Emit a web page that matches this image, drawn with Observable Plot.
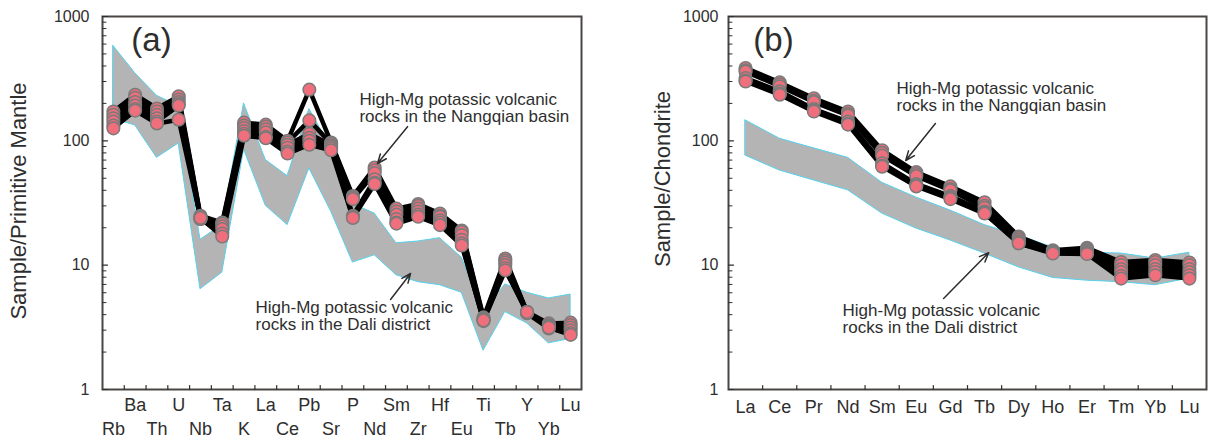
<!DOCTYPE html>
<html><head><meta charset="utf-8">
<script src="https://cdn.jsdelivr.net/npm/d3@7"></script>
<script src="https://cdn.jsdelivr.net/npm/@observablehq/plot@0.6"></script>
<style>
html,body{margin:0;padding:0;background:#fff;}
#wrap{display:flex;width:1208px;height:440px;overflow:hidden;}
</style></head><body><div id="wrap"></div>
<script>
// ---------- Panel (a): primitive-mantle normalised spider diagram ----------
const elementsA = ["Rb","Ba","Th","U","Nb","Ta","K","La","Ce","Pb","Sr","P","Nd","Sm","Zr","Hf","Eu","Ti","Tb","Y","Yb","Lu"];
const nangqianA1 = [172,235,182,228,25,22,140,135,100,258,97,36,61,28.5,31,26,19,3.8,11.3,4.2,3.4,3.45];
const nangqianA2 = [162,222,172,215,24.5,21.5,133,130,97,146,95,35,58,27,30,25,18.5,3.7,10.9,4.2,3.3,3.3];
const nangqianA3 = [152,205,162,205,24,20.5,127,124,93,114,92,34,55,25.5,28.5,24.5,17.5,3.65,10.5,4.15,3.25,3.15];
const nangqianA4 = [143,192,152,198,23.5,19.5,120,117,88,106,90,25,49,23.5,27,23,16,3.6,10,4.2,3.2,3.0];
const nangqianA5 = [133,180,143,192,23.5,18,114,108,82,100,87,24.5,46,22,25.5,22,15,3.55,9.5,4.1,3.1,2.85];
const nangqianA6 = [126,175,138,148,24,17,110,105,79,93,84,24,45,21.6,24.5,21,14.4,3.6,9.1,4.2,3.15,2.75];
const daliUpperA = [580,350,230,190,16,21,200,70,52,180,88,31,26,15,15.5,16.5,11.5,4.2,7,6,5.4,5.8];
const daliLowerA = [150,133,73,95,6.4,8.7,85,30,21,60,27,10.5,12,8.3,7.3,6.9,6.0,2.05,4.2,3.4,2.35,2.55];

// ---------- Panel (b): chondrite-normalised REE diagram ----------
const elementsB = ["La","Ce","Pr","Nd","Sm","Eu","Gd","Tb","Dy","Ho","Er","Tm","Yb","Lu"];
const nangqianB1 = [385,295,220,172,84,56,43,32,17,13.2,13.8,10.6,11,10.5];
const nangqianB2 = [370,285,210,165,80,54,41,30,16.5,13,13.5,10,10.6,10];
const nangqianB3 = [360,275,205,160,76,52,40,29,16,12.8,13.2,9.3,10,9.3];
const nangqianB4 = [320,250,180,143,66,45,36,27,15.5,12.6,12.8,8.8,9.3,8.8];
const nangqianB5 = [305,240,175,137,63,44,35,26.5,15,12.5,12.5,8.2,8.8,8.3];
const nangqianB6 = [300,235,172,135,62,43,34,26,15,12.4,12.3,7.8,8.3,7.8];
const daliUpperB = [146,104,87,73,46,35,27.5,21,17.3,13.9,12.6,12.4,11.3,12.6];
const daliLowerB = [76,57.7,48,40,26,19.7,15.8,12.4,9.6,7.9,7.5,7.3,6.9,7.8];

// ---------- Axis tick labels ----------
const yTickLabels = [1, 10, 100, 1000];
const yMinorTicks = [2,3,4,5,6,7,8,9,20,30,40,50,60,70,80,90,200,300,400,500,600,700,800,900];

// ---------- Annotations (data coordinates: element index, normalised value) ----------
const labelNangqian = "High-Mg potassic volcanic\nrocks in the Nangqian basin";
const labelDali = "High-Mg potassic volcanic\nrocks in the Dali district";
const notesA = [{text: labelNangqian, x: 11.3, y: 185}, {text: labelDali, x: 6.53, y: 3.87}];
const arrowsA = [{x1: 13.51, y1: 130, x2: 12.13, y2: 65.7}, {x1: 12.73, y1: 5.3, x2: 13.65, y2: 8.57}];
const notesB = [{text: labelNangqian, x: 4.42, y: 223}, {text: labelDali, x: 2.84, y: 3.72}];
const arrowsB = [{x1: 5.56, y1: 138, x2: 4.69, y2: 69.5}, {x1: 5.80, y1: 5.39, x2: 7.12, y2: 12.6}];

const INK = "#2e2e2e";
const FONT = "'Liberation Sans', Arial, Helvetica, sans-serif";
const tickShape = {draw(ctx, l) { ctx.moveTo(0, 0); ctx.lineTo(0, -l); }};

function panel({elements, samples, upper, lower, notes, arrows, tag, tagDx, title, titleDx, titleDy, ylabDx, marginLeft, marginRight, twoRows, xlabDy}) {
  const n = elements.length;
  const rec = samples.flatMap((vals, s) => vals.map((v, i) => ({s, i, v})));
  const field = elements.map((el, i) => ({i, lo: lower[i], hi: upper[i]}));
  const labs = elements.map((el, i) => ({el, i}));
  const lab = {x: "i", text: "el", frameAnchor: "bottom", lineAnchor: "middle", textAnchor: "middle", fontSize: 18, fill: INK};
  const xMarks = twoRows
    ? [Plot.text(labs.filter(d => d.i % 2 === 1), {...lab, dy: 16}),
       Plot.text(labs.filter(d => d.i % 2 === 0), {...lab, dy: 40})]
    : [Plot.text(labs, {...lab, dy: xlabDy})];
  return Plot.plot({
    width: 604, height: 440,
    marginLeft, marginRight, marginTop: 16, marginBottom: 51,
    x: {type: "linear", domain: [-0.5, n - 0.5], axis: null},
    y: {type: "log", domain: [1, 1000], axis: null},
    style: {fontFamily: FONT, background: "#fff", color: INK, overflow: "visible"},
    marks: [
      Plot.areaY(field, {x: "i", y1: "lo", y2: "hi", fill: "#b4b4b4", stroke: "#55d2ee", strokeWidth: 1, curve: "linear"}),
      Plot.line(rec, {x: "i", y: "v", z: "s", stroke: "#000", strokeWidth: 4.5, strokeLinejoin: "round"}),
      Plot.dot(rec, {x: "i", y: "v", r: 6.3, fill: "#ef6f7c", stroke: "#7a7a7a", strokeWidth: 1.5}),
      Plot.frame({stroke: "#4a4644", strokeWidth: 2}),
      // inward y ticks
      Plot.vector(yTickLabels, {y: d => d, frameAnchor: "left", length: 5, rotate: 90, anchor: "start", shape: tickShape, stroke: INK, strokeWidth: 1.2}),
      Plot.vector(yMinorTicks, {y: d => d, frameAnchor: "left", length: 3.5, rotate: 90, anchor: "start", shape: tickShape, stroke: INK, strokeWidth: 1}),
      // inward x ticks between elements
      Plot.vector(elements.slice(1).map((el, i) => i + 0.5), {x: d => d, frameAnchor: "bottom", length: 4, rotate: 0, anchor: "start", shape: tickShape, stroke: INK, strokeWidth: 1.2}),
      Plot.text(yTickLabels, {y: d => d, text: d => String(d), frameAnchor: "left", dx: ylabDx, textAnchor: "end", lineAnchor: "middle", fontSize: 16, fill: INK}),
      ...xMarks,
      Plot.text([title], {frameAnchor: "left", dx: titleDx, dy: titleDy, rotate: -90, textAnchor: "middle", lineAnchor: "middle", fontSize: 22, fill: INK}),
      Plot.text([tag], {frameAnchor: "top-left", dx: tagDx, dy: 24, textAnchor: "middle", lineAnchor: "middle", fontSize: 33, fill: INK}),
      Plot.text(notes, {x: "x", y: "y", text: "text", textAnchor: "start", lineAnchor: "middle", lineHeight: 1, fontSize: 17, fill: INK}),
      Plot.arrow(arrows, {x1: "x1", y1: "y1", x2: "x2", y2: "y2", stroke: INK, strokeWidth: 1.5, headLength: 10, headAngle: 45})
    ]
  });
}

const wrap = document.getElementById("wrap");
wrap.append(panel({
  elements: elementsA,
  samples: [nangqianA1, nangqianA2, nangqianA3, nangqianA4, nangqianA5, nangqianA6],
  upper: daliUpperA, lower: daliLowerA, notes: notesA, arrows: arrowsA,
  tag: "(a)", tagDx: 49, title: "Sample/Primitive Mantle", titleDx: -84, titleDy: -2,
  ylabDx: -13, marginLeft: 102, marginRight: 23, twoRows: true
}));
wrap.append(panel({
  elements: elementsB,
  samples: [nangqianB1, nangqianB2, nangqianB3, nangqianB4, nangqianB5, nangqianB6],
  upper: daliUpperB, lower: daliLowerB, notes: notesB, arrows: arrowsB,
  tag: "(b)", tagDx: 45, title: "Sample/Chondrite", titleDx: -66, titleDy: -24,
  ylabDx: -10, marginLeft: 124, marginRight: 2, twoRows: false, xlabDy: 18
}));
</script></body></html>
